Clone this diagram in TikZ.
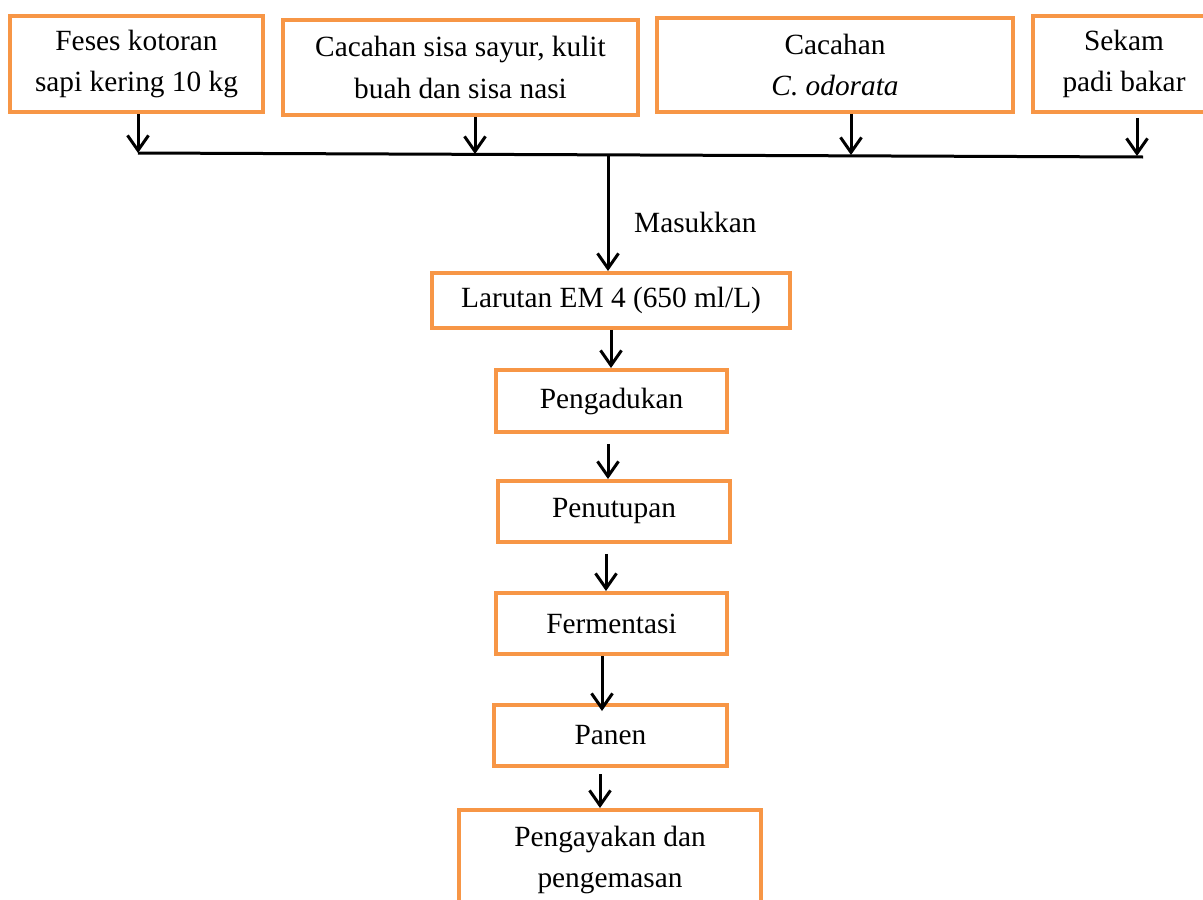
\documentclass[tikz,border=0pt]{standalone}
\usepackage{fontspec}
\setmainfont{Liberation Serif}
\usetikzlibrary{arrows.meta}
\definecolor{oranye}{HTML}{F79646}
\tikzset{
  teks/.style={font=\fontsize{16.7}{23.5}\selectfont},
  kotak/.style={teks, draw=oranye, line width=0.08cm, align=center, inner sep=0pt},
  panah/.style={black, line width=0.06cm, -{Straight Barb[length=0.3cm,width=0.42cm]}},
}
\begin{document}
\begin{tikzpicture}[x=0.02cm, y=-0.02cm]
        \clip (0,0) rectangle (1203,899);

        % bahan
        \node[kotak, minimum width=5.06cm, minimum height=1.92cm] (feses) at (136.5,64) {Feses kotoran\\sapi kering 10 kg};
        \node[kotak, minimum width=7.10cm, minimum height=1.90cm] (sayur) at (460.5,67.5) {Cacahan sisa sayur, kulit\\buah dan sisa nasi};
        \node[kotak, minimum width=7.12cm, minimum height=1.88cm] (odorata) at (835,65) {Cacahan\\\textit{C. odorata}};
        \node[kotak, minimum width=3.64cm, minimum height=1.92cm] (sekam) at (1124,64) {Sekam\\padi bakar};

        % proses
        \node[kotak, minimum width=7.16cm, minimum height=1.10cm] (larutan) at (611,300.5) {Larutan EM 4 (650 ml/L)};
        \node[kotak, minimum width=4.62cm, minimum height=1.24cm] (aduk) at (611.5,401) {Pengadukan};
        \node[kotak, minimum width=4.64cm, minimum height=1.22cm] (tutup) at (614,511.5) {Penutupan};
        \node[kotak, minimum width=4.62cm, minimum height=1.22cm] (ferm) at (611.5,623.5) {Fermentasi};
        \node[kotak, minimum width=4.66cm, minimum height=1.22cm] (panen) at (610.5,735.5) {Panen};
        \node[kotak, minimum width=6.04cm, minimum height=2.00cm] (ayak) at (610,860) {Pengayakan dan\\pengemasan};

        \node[teks, anchor=west] (masuk) at (628,222) {Masukkan};

        % garis pengumpul
        \coordinate (b1) at (138,153);
        \coordinate (b2) at (475,154);
        \coordinate (b3) at (851,155);
        \coordinate (b4) at (1137,156);
        \coordinate (bm) at (608,155);
        \draw[black, line width=0.06cm] (b1) -- (1143,157);

        \draw[panah] (feses.south -| b1) -- (b1);
        \draw[panah] (sayur.south -| b2) -- (b2);
        \draw[panah] (odorata.south -| b3) -- (b3);
        \draw[panah] (sekam.south -| b4) ++(0,4) -- (b4);
        \draw[panah] (bm) -- (bm |- larutan.north);

        \draw[panah] (larutan.south -| 611,0) -- (aduk.north -| 611,0);
        \draw[panah] ([yshift=-0.2cm]aduk.south -| 608,0) -- (tutup.north -| 608,0);
        \draw[panah] ([yshift=-0.2cm]tutup.south -| 606,0) -- (ferm.north -| 606,0);
        \draw[panah] (ferm.south -| 602,0) -- ([yshift=-0.16cm]panen.north -| 602,0);
        \draw[panah] ([yshift=-0.12cm]panen.south -| 600,0) -- (ayak.north -| 600,0);
\end{tikzpicture}
\end{document}
